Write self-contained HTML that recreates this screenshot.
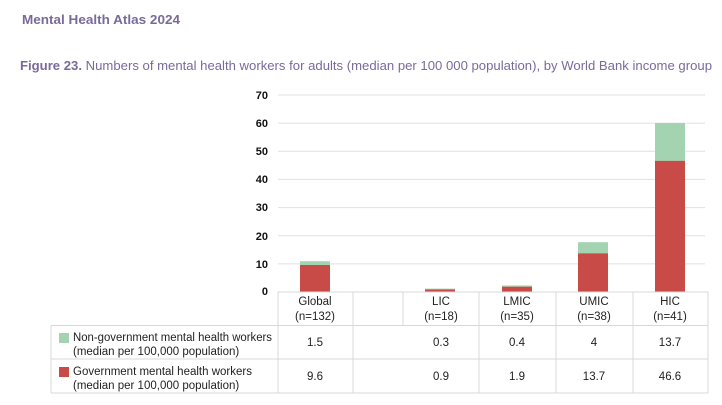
<!DOCTYPE html>
<html><head><meta charset="utf-8"><style>
body{margin:0;background:#fff;}
svg{display:block;font-family:"Liberation Sans",sans-serif;}
</style></head><body>
<svg width="722" height="405" viewBox="0 0 722 405" xmlns="http://www.w3.org/2000/svg">
<text x="22" y="24" font-size="13" font-weight="bold" fill="#7a6a9a" textLength="158" lengthAdjust="spacingAndGlyphs">Mental Health Atlas 2024</text>
<text x="20" y="70" font-size="13" fill="#7a6a9a" textLength="692" lengthAdjust="spacingAndGlyphs"><tspan font-weight="bold">Figure 23.</tspan> Numbers of mental health workers for adults (median per 100 000 population), by World Bank income group</text>
<g stroke="#e0e0e0" stroke-width="1">
<line x1="278" y1="95" x2="705" y2="95"/>
<line x1="278" y1="123.1" x2="705" y2="123.1"/>
<line x1="278" y1="151.3" x2="705" y2="151.3"/>
<line x1="278" y1="179.4" x2="705" y2="179.4"/>
<line x1="278" y1="207.6" x2="705" y2="207.6"/>
<line x1="278" y1="235.7" x2="705" y2="235.7"/>
<line x1="278" y1="263.9" x2="705" y2="263.9"/>
</g>
<g font-size="11" font-weight="bold" fill="#111" text-anchor="end">
<text x="268" y="99">70</text><text x="268" y="127">60</text><text x="268" y="155">50</text>
<text x="268" y="183">40</text><text x="268" y="211">30</text><text x="268" y="240">20</text>
<text x="268" y="268">10</text><text x="268" y="295">0</text>
</g>
<rect x="300" y="261.2" width="30" height="4.3" fill="#a3d3b0"/>
<rect x="300" y="265" width="30" height="27" fill="#c84b48"/>
<rect x="425" y="288.6" width="30" height="1" fill="#a3d3b0"/>
<rect x="425" y="289.5" width="30" height="2.5" fill="#c84b48"/>
<rect x="502" y="285.5" width="30" height="1.3" fill="#a3d3b0"/>
<rect x="502" y="286.7" width="30" height="5.3" fill="#c84b48"/>
<rect x="578" y="242.2" width="30" height="11.3" fill="#a3d3b0"/>
<rect x="578" y="253.4" width="30" height="38.6" fill="#c84b48"/>
<rect x="655" y="123.1" width="30" height="38.6" fill="#a3d3b0"/>
<rect x="655" y="160.9" width="30" height="131.1" fill="#c84b48"/>
<g stroke="#d8d8d8" stroke-width="1" fill="none">
<line x1="278" y1="292" x2="708" y2="292"/>
<line x1="51" y1="325.5" x2="708" y2="325.5"/>
<line x1="51" y1="359" x2="708" y2="359"/>
<line x1="51" y1="393" x2="708" y2="393"/>
<line x1="51" y1="325.5" x2="51" y2="393"/>
<line x1="278" y1="292" x2="278" y2="393"/>
<line x1="353" y1="292" x2="353" y2="393"/>
<line x1="403" y1="292" x2="403" y2="325.5"/>
<line x1="479" y1="292" x2="479" y2="393"/>
<line x1="556" y1="292" x2="556" y2="393"/>
<line x1="633" y1="292" x2="633" y2="393"/>
<line x1="708" y1="292" x2="708" y2="393"/>
</g>
<g font-size="11.5" fill="#222" text-anchor="middle">
<text x="315" y="305">Global</text><text x="315" y="320">(n=132)</text>
<text x="441" y="305">LIC</text><text x="441" y="320">(n=18)</text>
<text x="517" y="305">LMIC</text><text x="517" y="320">(n=35)</text>
<text x="594" y="305">UMIC</text><text x="594" y="320">(n=38)</text>
<text x="670" y="305">HIC</text><text x="670" y="320">(n=41)</text>
<text x="315" y="346">1.5</text><text x="441" y="346">0.3</text><text x="517" y="346">0.4</text><text x="594" y="346">4</text><text x="670" y="346">13.7</text>
<text x="315" y="380">9.6</text><text x="441" y="380">0.9</text><text x="517" y="380">1.9</text><text x="594" y="380">13.7</text><text x="670" y="380">46.6</text>
</g>
<rect x="59" y="333" width="10" height="10" fill="#a3d3b0"/>
<rect x="59" y="367" width="10" height="10" fill="#c84b48"/>
<g font-size="11.5" fill="#222">
<text x="73" y="341" textLength="199" lengthAdjust="spacingAndGlyphs">Non-government mental health workers</text>
<text x="73" y="355">(median per 100,000 population)</text>
<text x="73" y="375">Government mental health workers</text>
<text x="73" y="389">(median per 100,000 population)</text>
</g>
</svg>
</body></html>
